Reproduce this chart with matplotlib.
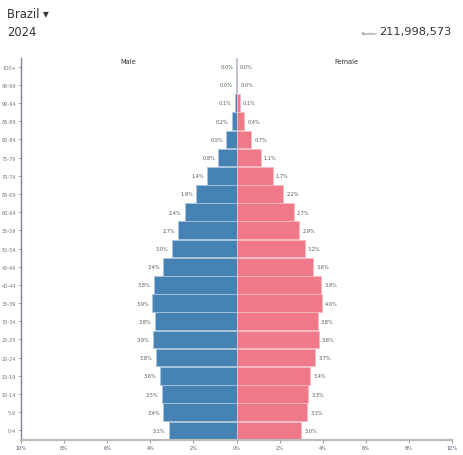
import matplotlib
matplotlib.use("Agg")
import matplotlib.pyplot as plt
import numpy as np

age_groups = ["0-4", "5-9", "10-14", "15-19", "20-24", "25-29", "30-34", "35-39",
              "40-44", "45-49", "50-54", "55-59", "60-64", "65-69", "70-74", "75-79",
              "80-84", "85-89", "90-94", "95-99", "100+"]
male = [3.14, 3.41, 3.46, 3.56, 3.75, 3.87, 3.78, 3.90, 3.84, 3.41, 3.00, 2.70,
        2.39, 1.87, 1.36, 0.84, 0.48, 0.22, 0.08, 0.02, 0.004]
female = [3.00, 3.27, 3.32, 3.43, 3.66, 3.81, 3.77, 3.96, 3.92, 3.56, 3.17, 2.91,
          2.66, 2.17, 1.68, 1.12, 0.69, 0.36, 0.14, 0.04, 0.005]
xticks = [-10, -8, -6, -4, -2, 0, 2, 4, 6, 8, 10]
xtick_labels = ["10%", "8%", "6%", "4%", "2%", "0%", "2%", "4%", "6%", "8%", "10%"]
country = "Brazil"
year = "2024"
population = "211,998,573"

W, H = 463, 456
fig = plt.figure(figsize=(W / 100, H / 100), dpi=100)
ax = fig.add_axes([21 / W, 1 - 440.5 / H, (452 - 21) / W, (440.5 - 58.5) / H])

y = np.arange(len(age_groups))
male_c = "#4682b4"
fem_c = "#ef7989"
ax.barh(y, [-m for m in male], height=0.97, color=male_c, edgecolor="#a8c4de", linewidth=0.6)
ax.barh(y, female, height=0.97, color=fem_c, edgecolor="#f7b9c2", linewidth=0.6)

lab_fs = 3.6
for i, (m, f) in enumerate(zip(male, female)):
    ax.text(-m - 0.15, i, f"{m:.1f}%", ha="right", va="center", fontsize=lab_fs, color="#555555")
    ax.text(f + 0.15, i, f"{f:.1f}%", ha="left", va="center", fontsize=lab_fs, color="#555555")

ax.set_xlim(-10, 10)
ax.set_ylim(-0.5, len(age_groups) - 0.5)
ax.set_xticks(xticks)
ax.set_xticklabels(xtick_labels)
ax.set_yticks(y)
ax.set_yticklabels(age_groups)
ax.tick_params(axis="x", labelsize=3.6, colors="#888888", length=2.5, width=0.6, pad=1.5, labelcolor="#4a5570")
ax.tick_params(axis="y", labelsize=3.6, colors="#8a8fa0", length=2, width=0.5, pad=1.5, labelcolor="#777777")
for s in ["top", "right"]:
    ax.spines[s].set_visible(False)
ax.spines["left"].set_color("#7d8599")
ax.spines["left"].set_linewidth(1.0)
ax.spines["bottom"].set_color("#bbbbbb")
ax.spines["bottom"].set_linewidth(1.6)
ax.set_facecolor("white")

fig.text(128 / W, 1 - 62 / H, "Male", ha="center", va="center", fontsize=4.8, color="#333333")
fig.text(346 / W, 1 - 62 / H, "Female", ha="center", va="center", fontsize=4.8, color="#333333")

fig.text(7 / W, 1 - 14 / H, country + " \u25BE", ha="left", va="center", fontsize=8.3, color="#333333")
fig.text(7 / W, 1 - 32 / H, year, ha="left", va="center", fontsize=8.3, color="#333333")
fig.text(452 / W, 1 - 32 / H, population, ha="right", va="center", fontsize=8.2, color="#333333")
fig.text(377 / W, 1 - 33.5 / H, "Population", ha="right", va="center", fontsize=2.2, color="#555555")

fig.savefig("out.png", dpi=100, facecolor="white")
